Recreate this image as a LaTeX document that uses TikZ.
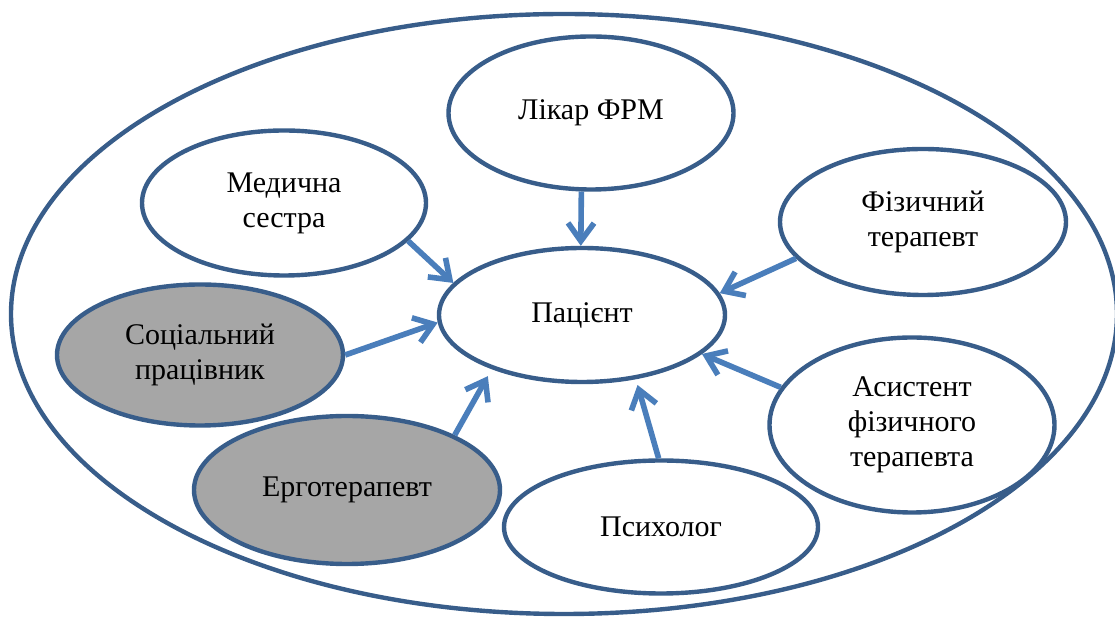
\documentclass[tikz,border=0pt]{standalone}
\usepackage{fontspec}
\setmainfont{Liberation Serif}
\usetikzlibrary{shapes.geometric}
\usetikzlibrary{arrows.meta}
\definecolor{rim}{HTML}{385D8A}
\definecolor{arrowblue}{HTML}{4A7EBB}
\tikzstyle{team}=[ellipse, draw=rim, line width=2.2pt, minimum width=553pt, minimum height=300pt, inner sep=0pt]
\tikzstyle{member}=[ellipse, draw=rim, line width=2.2pt, fill=white, inner sep=0pt, align=center, font=\fontsize{15}{17.5}\selectfont]
\tikzstyle{grey member}=[member, fill=black!35]
\tikzstyle{link}=[draw=arrowblue, line width=2.8pt, -{Straight Barb[length=9pt, width=13pt]}]

\begin{document}
\begin{tikzpicture}[x=0.5pt, y=-0.5pt]
      \useasboundingbox (0,0) rectangle (1115,619);
      \node[team] (team) at (564,314) {};
      \node[member, minimum width=142.5pt, minimum height=76.5pt] (doctor) at (591,113) {Лікар ФРМ};
      \node[member, minimum width=142pt, minimum height=72.5pt] (nurse) at (284,203) {Медична\\сестра};
      \node[member, minimum width=143pt, minimum height=73pt] (physio) at (923,222) {Фізичний\\терапевт};
      \node[member, minimum width=143pt, minimum height=67pt] (patient) at (582,315) {Пацієнт};
      \node[grey member, minimum width=143pt, minimum height=70.5pt] (social) at (200,355) {Соціальний\\працівник};
      \node[grey member, minimum width=153pt, minimum height=74pt] (ergo) at (347,490) {Ерготерапевт};
      \node[member, minimum width=157pt, minimum height=66.5pt] (psych) at (661,527) {Психолог};
      \node[member, minimum width=142.5pt, minimum height=87.5pt] (assistant) at (912,425) {Асистент\\фізичного\\терапевта};
      \draw[link] (doctor.-97) -- (patient.91);
      \draw[link] (nurse.-17) -- (patient.166);
      \draw[link] (physio.-164) -- (patient.9);
      \draw[link] (social.east) -- (patient.183);
      \draw[link, shorten >=4pt] (ergo.27) -- (patient.211);
      \draw[link, shorten >=3pt] (psych.92) -- (patient.-50);
      \draw[link] (assistant.164) -- (patient.-18);
    \end{tikzpicture}
\end{document}
